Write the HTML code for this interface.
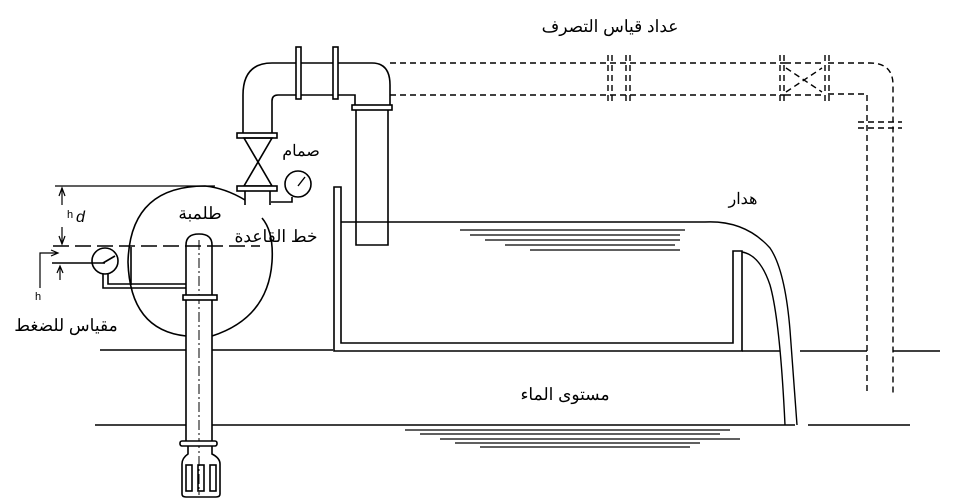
<!DOCTYPE html>
<html><head><meta charset="utf-8"><style>
html,body{margin:0;padding:0;background:#fff;width:957px;height:502px;overflow:hidden}
svg{display:block}
text{font-family:"Liberation Sans","Noto Sans CJK SC",sans-serif;fill:#000}
</style></head><body>
<svg width="957" height="502" viewBox="0 0 957 502" xmlns="http://www.w3.org/2000/svg">
<g fill="none" stroke="#000" stroke-width="1.6">
<!-- top solid pipe & elbows -->
<path d="M243 135 L243 95 Q243 63 272 63 L372 63 Q390 63 390 85 L390 107"/>
<path d="M272 135 L272 101 Q272 95 278 95 L355 95 L355 107"/>
<rect x="296" y="47" width="5" height="52" fill="#fff"/>
<rect x="333" y="47" width="5" height="52" fill="#fff"/>
<!-- flange and vertical pipe into tank -->
<rect x="352" y="105" width="40" height="5" fill="#fff"/>
<path d="M356 110 L356 245 L388 245 L388 110"/>
<!-- valve -->
<rect x="237" y="133" width="40" height="5" fill="#fff"/>
<path d="M244 138 L272 138 L244 186 L272 186 Z"/>
<rect x="237" y="186" width="40" height="5" fill="#fff"/>
<path d="M245 191 L245 205 M270 191 L270 205"/>
<!-- valve gauge -->
<circle cx="298" cy="184" r="13"/>
<path d="M298 186 L305 177" stroke-width="1.4"/>
<path d="M292 197 L292 202 L271 202"/>
<!-- dashed pipe -->
<g stroke-dasharray="6,4" stroke-width="1.4">
<path d="M390 63 L785 63 M390 95 L785 95"/>
<path d="M785 63 L823 63 M785 95 L823 95"/>
<path d="M828 63 L870 63 Q893 63 893 85 L893 395"/>
<path d="M828 94 L867 94 L867 395"/>
<path d="M858 122 L902 122 M858 128 L902 128"/>
<path d="M608 55 L608 103 M612 55 L612 103 M626 55 L626 103 M630 55 L630 103"/>
<path d="M780 55 L780 103 M784 55 L784 103 M825 55 L825 103 M829 55 L829 103"/>
<path d="M786 68 L822 92 M786 92 L822 68"/>
</g>
<!-- pump volute -->
<path d="M245 200 Q225 188 205 186 Q130 186 128 262 Q130 330 186 336"/>
<path d="M212 336 Q268 318 272 262 Q274 232 262 218"/>
<path d="M131 247 L131 285"/>
<!-- lines -->
<path d="M55 186 L215 186" stroke-width="1.2"/>
<path d="M53 246 L260 246" stroke-dasharray="16,6" stroke-width="1.6"/>
<path d="M62 188 L62 205 M62 227 L62 244" stroke-width="1.2"/>
<path d="M59 196 L62 188 L65 196 M59 236 L62 244 L65 236" stroke-width="1.2"/>
<path d="M52 263 L105 263" stroke-width="1.6"/>
<path d="M60 266 L60 280 M57 273 L60 266 L63 273" stroke-width="1.2"/>
<path d="M40 288 L40 253 L58 253 M51 250 L58 253 L51 256" stroke-width="1.2"/>
<circle cx="105" cy="261" r="13"/>
<path d="M103 263 L115 256"/>
<path d="M103 274 L103 288 L186 288 M108 274 L108 284 L186 284"/>
<!-- suction pipe -->
<path d="M186 443 L186 245 Q186 234 199 234 Q212 234 212 245 L212 443"/>
<path d="M199 240 L199 495" stroke-dasharray="10,3,2,3" stroke-width="1"/>
<rect x="183" y="295" width="34" height="5" fill="#fff"/>
<rect x="180" y="441" width="37" height="5" rx="2" fill="#fff"/>
<path d="M188 446 L188 454 Q182 458 182 464 L182 494 Q182 497 186 497 L216 497 Q220 497 220 494 L220 464 Q220 458 212 454 L212 446"/>
<rect x="186" y="465" width="6" height="26"/>
<rect x="198" y="465" width="6" height="26"/>
<rect x="210" y="465" width="6" height="26"/>
<!-- ground & water lines -->
<path d="M100 350 L186 350 M212 350 L333 350"/>
<path d="M95 425 L186 425 M212 425 L795 425 M808 425 L910 425"/>
<path d="M742 351 L780 351 M800 351 L867 351 M893 351 L940 351" stroke-width="1.6"/>
<!-- tank -->
<path d="M334 187 L334 351 L742 351 L742 251 L733 251 L733 343 L341 343 L341 187 Z" stroke-width="1.6"/>
<path d="M341 222 L705 222 Q745 220 770 248 Q785 270 790 330 L797 425" stroke-width="1.4"/>
<path d="M742 252 Q760 255 770 285 Q780 320 785 425" stroke-width="1.4"/>
</g>
<!-- hatch -->
<g stroke="#000" stroke-width="1.2">
<path d="M460 230 L685 230 M470 235 L680 235 M485 240 L680 240 M505 245 L675 245 M530 250 L680 250"/>
<path d="M405 430 L730 430 M420 434 L720 434 M440 439 L740 439 M455 443 L700 443 M480 447 L690 447"/>
</g>
<!-- labels -->
<g font-size="16" text-anchor="middle">
<text x="610" y="32" font-size="17">عداد قياس التصرف</text>
<text x="301" y="156">صمام</text>
<text x="743" y="204">هدار</text>
<text x="200" y="219" font-size="17">طلمبة</text>
<text x="276" y="242" font-size="17">خط القاعدة</text>
<text x="66" y="331" font-size="17">مقياس للضغط</text>
<text x="565" y="400" font-size="17">مستوى الماء</text>
</g>
<text x="67" y="218" font-size="11">h</text>
<text x="76" y="222" font-size="16" font-style="italic">d</text>
<text x="35" y="300" font-size="11">h</text>
</svg>
</body></html>
